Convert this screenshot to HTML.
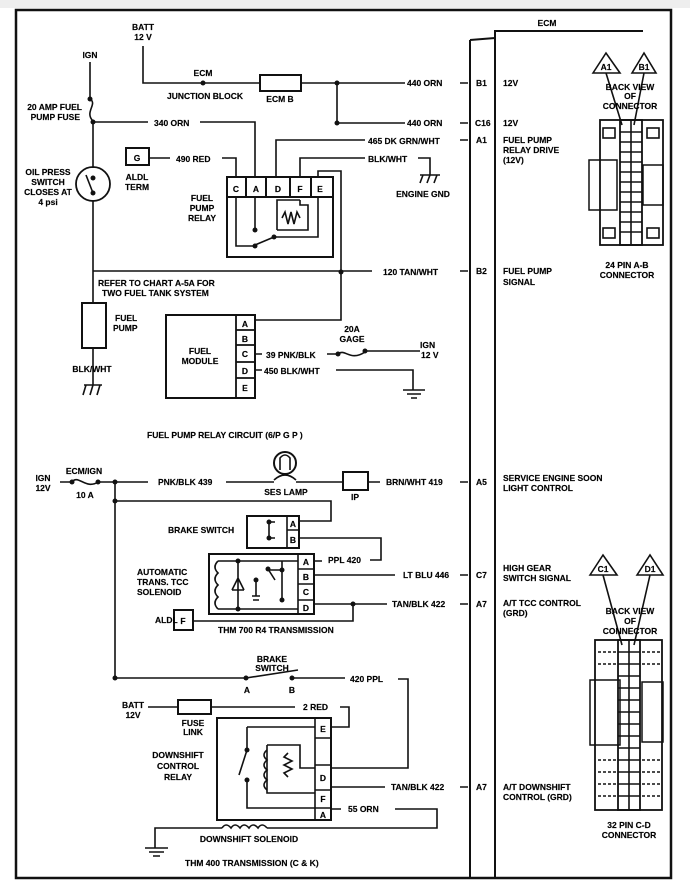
<!DOCTYPE html>
<html><head><meta charset="utf-8"><style>
html,body{margin:0;padding:0;background:#fff}
svg{display:block}
text{font-family:"Liberation Sans",sans-serif;font-weight:bold;font-size:8.5px;fill:#000;stroke:#000;stroke-width:0.15px}
</style></head><body>
<svg width="690" height="882" viewBox="0 0 690 882" xmlns="http://www.w3.org/2000/svg">
<rect x="0" y="0" width="690" height="882" fill="#fff"/>
<rect x="0" y="0" width="690" height="8" fill="#eee"/>
<rect x="16" y="10" width="655" height="868" fill="none" stroke="#111" stroke-width="2.5"/>
<g stroke="#111" stroke-width="1.6" fill="none">
<path d="M470 40 V878 M470 40 L495 38 M495 30 V878 M495 31 H643" stroke-width="2"/>
<path d="M460 83H468 M460 123H468 M460 140H468 M460 271H468 M460 482H468 M460 575H468 M460 604H468 M460 787H468"/>
<path d="M143 46V83H260 M301 83H405 M337 83V123H405"/>
<rect x="260" y="75" width="41" height="16" stroke-width="2"/>
<path d="M90 62V99 C98 104,84 112,93 121 M93 122H148 M200 122H255V177"/>
<path d="M93 122V168 M93 200V303 M93 348V380"/>
<circle cx="93" cy="184" r="17" stroke-width="1.8"/>
<path d="M86 175 L93 193"/>
<rect x="82" y="303" width="24" height="45" stroke-width="2"/>
<path d="M84 385H102 M86 385L83 395 M93 385L90 395 M100 385L97 395 M93 380V385"/>
<rect x="126" y="148" width="23" height="17" stroke-width="2"/>
<path d="M149 158H170 M222 158H236V177"/>
<path d="M276 177V140H365 M300 177V158H365 M418 158H430V175 M420 175H440 M423 175L420 183 M430 175L427 183 M437 175L434 183 M318 177V171H341V320H255"/>
<rect x="227" y="177" width="106" height="80" stroke-width="2"/>
<path d="M227 197H333 M246 177V197 M266 177V197 M290 177V197 M311 177V197" stroke-width="2"/>
<path d="M236 197V246H255 M255 197V230 M255 245L274 237 M274 237H318V197 M277 230V200H300 M300 200V205H308V230H277"/>
<path d="M282 218 l3-6 3 12 3-12 3 12 3-12 3 6"/>
<path d="M93 271H372"/>
<rect x="166" y="315" width="89" height="83" stroke-width="2"/>
<path d="M236 315V398 M236 330H255 M236 345H255 M236 362H255 M236 378H255" stroke-width="1.8"/>
<path d="M255 354H262 M327 354H338 C345 348,350 362,365 352 M365 351H420 M255 370H262 M336 370H413V390 M403 390H425 M407 394H421 M411 398H417"/>
<path d="M60 482H72 C78 474,86 490,98 482 M98 482H148 M226 482H274 M296 482H343 M368 482H380"/>
<rect x="343" y="472" width="25" height="18" stroke-width="2"/>
<circle cx="285" cy="463" r="11" stroke-width="2"/>
<path d="M280 470V458 Q285 452 290 458V470 M274 480 Q285 470 296 480"/>
<path d="M115 482V678 M115 501H331V521H299"/>
<rect x="247" y="516" width="52" height="32" stroke-width="2"/>
<path d="M287 516V548 M287 530H299" stroke-width="1.6"/>
<path d="M269 522V538 M269 522H275 M269 538H275 M299 538H381V560H370"/>
<rect x="209" y="554" width="105" height="60" stroke-width="2"/>
<path d="M298 554V614 M298 569H314 M298 584H314 M298 600H314" stroke-width="1.6"/>
<path d="M314 561H322 M314 575H395 M314 604H387 M353 604V621H193"/>
<path d="M218 561H298 M218 609H298 M238 561V609 M232 590H244 M238 578L232 590 M238 578L244 590 M282 561V600 M268 569L275 580 M268 570H282 M256 580V596 M252 596H260 M253 600H259"/>
<path d="M218 561 q-6 6 0 12 q-6 6 0 12 q-6 6 0 12 q-6 6 0 12"/>
<rect x="174" y="610" width="19" height="20" stroke-width="2"/>
<path d="M115 678H246 M246 678L298 670 M292 678H345 M398 679H408V768H331"/>
<path d="M148 707H178 M211 707H295 M340 707H349V727H331"/>
<rect x="178" y="700" width="33" height="14" stroke-width="2"/>
<rect x="217" y="718" width="114" height="102" stroke-width="2"/>
<path d="M315 718V820 M315 738H331 M315 765H331 M315 790H331 M315 808H331" stroke-width="1.6"/>
<path d="M331 787H385 M331 809H341 M395 809H437V828H267 M222 828H155V848 M145 848H168 M149 852H164 M153 856H160"/>
<path d="M222 828 q4-6 9 0 q4-6 9 0 q4-6 9 0 q4-6 9 0 q4-6 9 0"/>
<path d="M247 727H315 M247 727V750 M247 750L239 775 M247 780V808H315 M267 745V793H315 M267 745H300V768H315 M288 753 l-4 4 8 4 -8 4 8 4 -8 4 4 4"/>
<path d="M267 750 q-6 5 0 10 q-6 5 0 10 q-6 5 0 10 q-6 5 0 10"/>
<path d="M593 73L606 53L620 73Z M632 73L644 53L656 73Z M606 73L622 125 M644 73L634 125"/>
<rect x="600" y="120" width="63" height="125" stroke-width="1.8"/>
<rect x="589" y="160" width="28" height="50" stroke-width="1.5"/>
<rect x="643" y="165" width="20" height="40" stroke-width="1.5"/>
<rect x="620" y="120" width="22" height="125" stroke-width="1.8"/>
<path d="M620 132H642 M620 142H642 M620 152H642 M620 162H642 M620 172H642 M620 182H642 M620 192H642 M620 202H642 M620 212H642 M620 222H642 M620 232H642 M631 120V245"/>
<rect x="603" y="128" width="12" height="10"/><rect x="647" y="128" width="12" height="10"/>
<rect x="603" y="228" width="12" height="10"/><rect x="647" y="228" width="12" height="10"/>
<path d="M590 575L603 555L617 575Z M637 575L650 555L663 575Z M603 575L622 645 M650 575L634 645"/>
<rect x="595" y="640" width="67" height="170" stroke-width="1.8"/>
<rect x="590" y="680" width="30" height="65" stroke-width="1.5"/>
<rect x="642" y="682" width="21" height="60" stroke-width="1.5"/>
<rect x="618" y="640" width="22" height="170" stroke-width="1.8"/>
<path d="M618 652H640 M618 664H640 M618 676H640 M618 688H640 M618 700H640 M618 712H640 M618 724H640 M618 736H640 M618 748H640 M618 760H640 M618 772H640 M618 784H640 M618 796H640 M629 640V810"/>
<path d="M598 652H616 M598 664H616 M598 760H616 M598 772H616 M598 784H616 M598 796H616 M642 652H660 M642 664H660 M642 760H660 M642 772H660 M642 784H660 M642 796H660" stroke-dasharray="3 2"/>
</g>
<g fill="#111">
<circle cx="203" cy="83" r="2.5"/><circle cx="337" cy="83" r="2.5"/><circle cx="337" cy="123" r="2.5"/>
<circle cx="90" cy="99" r="2.5"/><circle cx="93" cy="122" r="2.5"/><circle cx="93" cy="178" r="2.5"/><circle cx="93" cy="193" r="2.5"/>
<circle cx="341" cy="272" r="2.5"/><circle cx="255" cy="230" r="2.5"/><circle cx="255" cy="246" r="2.5"/><circle cx="274" cy="237" r="2.5"/>
<circle cx="338" cy="354" r="2.5"/><circle cx="365" cy="351" r="2.5"/>
<circle cx="72" cy="482" r="2.5"/><circle cx="98" cy="482" r="2.5"/><circle cx="115" cy="482" r="2.5"/><circle cx="115" cy="501" r="2.5"/><circle cx="115" cy="678" r="2.5"/>
<circle cx="246" cy="678" r="2.5"/><circle cx="292" cy="678" r="2.5"/><circle cx="353" cy="604" r="2.5"/>
<circle cx="269" cy="522" r="2.5"/><circle cx="269" cy="538" r="2.5"/>
<circle cx="238" cy="561" r="2.5"/><circle cx="238" cy="609" r="2.5"/><circle cx="268" cy="569" r="2.5"/><circle cx="282" cy="570" r="2.5"/><circle cx="282" cy="600" r="2.5"/><circle cx="256" cy="580" r="2.5"/>
<circle cx="247" cy="750" r="2.5"/><circle cx="247" cy="780" r="2.5"/>
</g>
<g>
<text x="143" y="30" text-anchor="middle">BATT</text><text x="143" y="40" text-anchor="middle">12 V</text>
<text x="90" y="58" text-anchor="middle">IGN</text>
<text x="203" y="76" text-anchor="middle">ECM</text>
<text x="205" y="99" text-anchor="middle">JUNCTION BLOCK</text>
<text x="280" y="102" text-anchor="middle">ECM B</text>
<text x="407" y="86">440 ORN</text><text x="407" y="126">440 ORN</text>
<text x="82" y="110" text-anchor="end">20 AMP FUEL</text><text x="80" y="120" text-anchor="end">PUMP FUSE</text>
<text x="154" y="126">340 ORN</text>
<text x="368" y="144">465 DK GRN/WHT</text>
<text x="368" y="162">BLK/WHT</text>
<text x="423" y="197" text-anchor="middle">ENGINE GND</text>
<text x="137" y="161" text-anchor="middle" font-size="10">G</text>
<text x="176" y="162">490 RED</text>
<text x="137" y="180" text-anchor="middle">ALDL</text><text x="137" y="190" text-anchor="middle">TERM</text>
<text x="48" y="175" text-anchor="middle">OIL PRESS</text><text x="48" y="185" text-anchor="middle">SWITCH</text><text x="48" y="195" text-anchor="middle">CLOSES AT</text><text x="48" y="205" text-anchor="middle">4 psi</text>
<text x="236" y="192" text-anchor="middle">C</text><text x="256" y="192" text-anchor="middle">A</text><text x="278" y="192" text-anchor="middle">D</text><text x="300" y="192" text-anchor="middle">F</text><text x="320" y="192" text-anchor="middle">E</text>
<text x="202" y="201" text-anchor="middle">FUEL</text><text x="202" y="211" text-anchor="middle">PUMP</text><text x="202" y="221" text-anchor="middle">RELAY</text>
<text x="383" y="275">120 TAN/WHT</text>
<text x="98" y="286">REFER TO CHART A-5A FOR</text><text x="102" y="296">TWO FUEL TANK SYSTEM</text>
<text x="115" y="321">FUEL</text><text x="113" y="331">PUMP</text>
<text x="92" y="372" text-anchor="middle">BLK/WHT</text>
<text x="200" y="354" text-anchor="middle">FUEL</text><text x="200" y="364" text-anchor="middle">MODULE</text>
<text x="245" y="327" text-anchor="middle">A</text><text x="245" y="342" text-anchor="middle">B</text><text x="245" y="357" text-anchor="middle">C</text><text x="245" y="374" text-anchor="middle">D</text><text x="245" y="391" text-anchor="middle">E</text>
<text x="266" y="358">39 PNK/BLK</text><text x="264" y="374">450 BLK/WHT</text>
<text x="352" y="332" text-anchor="middle">20A</text><text x="352" y="342" text-anchor="middle">GAGE</text>
<text x="420" y="348">IGN</text><text x="421" y="358">12 V</text>
<text x="147" y="438" font-size="11">FUEL PUMP RELAY CIRCUIT (6/P G P )</text>
<text x="43" y="481" text-anchor="middle">IGN</text><text x="43" y="491" text-anchor="middle">12V</text>
<text x="84" y="474" text-anchor="middle">ECM/IGN</text><text x="85" y="498" text-anchor="middle">10 A</text>
<text x="158" y="485">PNK/BLK 439</text><text x="286" y="495" text-anchor="middle">SES LAMP</text><text x="355" y="500" text-anchor="middle">IP</text>
<text x="386" y="485">BRN/WHT 419</text>
<text x="168" y="533">BRAKE SWITCH</text>
<text x="293" y="527" text-anchor="middle" font-size="6.5">A</text><text x="293" y="543" text-anchor="middle">B</text>
<text x="328" y="563">PPL 420</text>
<text x="306" y="565" text-anchor="middle">A</text><text x="306" y="580" text-anchor="middle">B</text><text x="306" y="595" text-anchor="middle">C</text><text x="306" y="611" text-anchor="middle">D</text>
<text x="403" y="578">LT BLU 446</text><text x="392" y="607">TAN/BLK 422</text>
<text x="137" y="575">AUTOMATIC</text><text x="137" y="585">TRANS. TCC</text><text x="137" y="595">SOLENOID</text>
<text x="155" y="623">ALDL</text><text x="183" y="624" text-anchor="middle">F</text>
<text x="218" y="633" font-size="11">THM 700 R4 TRANSMISSION</text>
<text x="272" y="662" text-anchor="middle">BRAKE</text><text x="272" y="671" text-anchor="middle">SWITCH</text>
<text x="247" y="693" text-anchor="middle">A</text><text x="292" y="693" text-anchor="middle">B</text>
<text x="350" y="682">420 PPL</text>
<text x="133" y="708" text-anchor="middle">BATT</text><text x="133" y="718" text-anchor="middle">12V</text>
<text x="193" y="726" text-anchor="middle">FUSE</text><text x="193" y="735" text-anchor="middle">LINK</text>
<text x="303" y="710">2 RED</text>
<text x="323" y="732" text-anchor="middle">E</text><text x="323" y="781" text-anchor="middle">D</text><text x="323" y="802" text-anchor="middle">F</text><text x="323" y="818" text-anchor="middle">A</text>
<text x="391" y="790">TAN/BLK 422</text><text x="348" y="812">55 ORN</text>
<text x="178" y="758" text-anchor="middle">DOWNSHIFT</text><text x="178" y="769" text-anchor="middle">CONTROL</text><text x="178" y="780" text-anchor="middle">RELAY</text>
<text x="249" y="842" text-anchor="middle">DOWNSHIFT SOLENOID</text>
<text x="185" y="866" font-size="11">THM 400 TRANSMISSION (C &amp; K)</text>
<text x="547" y="26" text-anchor="middle" font-size="11">ECM</text>
<text x="476" y="86">B1</text><text x="475" y="126">C16</text><text x="476" y="143">A1</text><text x="476" y="274">B2</text><text x="476" y="485">A5</text><text x="476" y="578">C7</text><text x="476" y="607">A7</text><text x="476" y="790">A7</text>
<text x="503" y="86">12V</text><text x="503" y="126">12V</text>
<text x="503" y="143">FUEL PUMP</text><text x="503" y="153">RELAY DRIVE</text><text x="503" y="163">(12V)</text>
<text x="503" y="274">FUEL PUMP</text><text x="503" y="285">SIGNAL</text>
<text x="503" y="481">SERVICE ENGINE SOON</text><text x="503" y="491">LIGHT CONTROL</text>
<text x="503" y="571">HIGH GEAR</text><text x="503" y="581">SWITCH SIGNAL</text>
<text x="503" y="606">A/T TCC CONTROL</text><text x="503" y="616">(GRD)</text>
<text x="503" y="790">A/T DOWNSHIFT</text><text x="503" y="800">CONTROL (GRD)</text>
<text x="606" y="70" text-anchor="middle" font-size="7.5">A1</text><text x="644" y="70" text-anchor="middle" font-size="7.5">B1</text>
<text x="630" y="90" text-anchor="middle">BACK VIEW</text><text x="630" y="99" text-anchor="middle">OF</text><text x="630" y="109" text-anchor="middle">CONNECTOR</text>
<text x="627" y="268" text-anchor="middle">24 PIN  A-B</text><text x="627" y="278" text-anchor="middle">CONNECTOR</text>
<text x="603" y="572" text-anchor="middle" font-size="7.5">C1</text><text x="650" y="572" text-anchor="middle" font-size="7.5">D1</text>
<text x="630" y="614" text-anchor="middle">BACK VIEW</text><text x="630" y="624" text-anchor="middle">OF</text><text x="630" y="634" text-anchor="middle">CONNECTOR</text>
<text x="629" y="828" text-anchor="middle">32  PIN C-D</text><text x="629" y="838" text-anchor="middle">CONNECTOR</text>
</g>
</svg>
</body></html>
